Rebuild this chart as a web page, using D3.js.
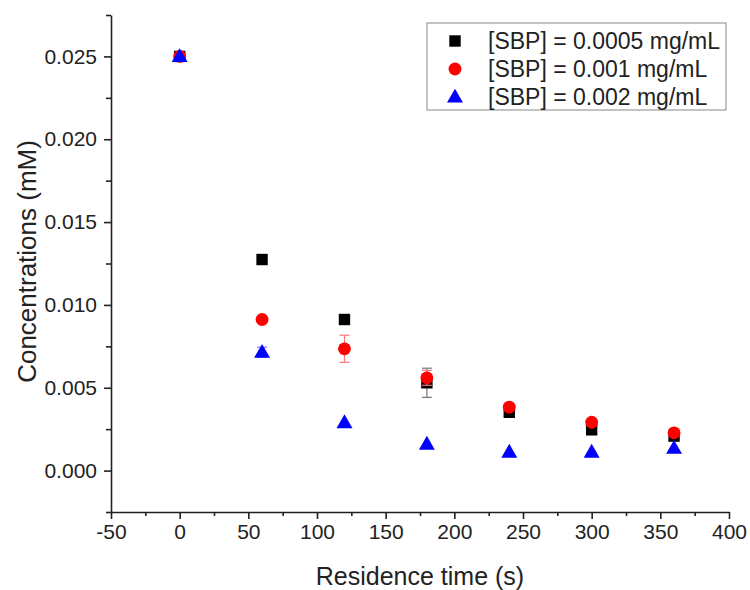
<!DOCTYPE html>
<html>
<head>
<meta charset="utf-8">
<script src="https://cdn.jsdelivr.net/npm/d3@7"></script>
<style>
  body { margin: 0; background: #fff; }
  text { font-family: "Liberation Sans", Arial, sans-serif; }
</style>
</head>
<body>
<div id="chart"></div>
<script>
// residence times (s)
const times = [0, 60, 120, 180, 240, 300, 360];

// concentrations (mM) per SBP loading
const conc0005 = [0.0250, 0.01274, 0.00912, 0.00530, 0.00352, 0.00246, 0.00208];
const conc001  = [0.0250, 0.00912, 0.00735, 0.00560, 0.00383, 0.00292, 0.00228];
const conc002  = [0.0250, 0.00715, 0.00290, 0.00160, 0.00112, 0.00112, 0.00135];

// error bars (mM)
const err0005 = [0, 0, 0, 0.00088, 0, 0, 0];
const err001  = [0, 0, 0.00082, 0.00045, 0, 0, 0];
const err002  = [0, 0.00030, 0, 0, 0, 0, 0];

const seriesNames = ["[SBP] = 0.0005 mg/mL", "[SBP] = 0.001 mg/mL", "[SBP] = 0.002 mg/mL"];
const seriesColors = ["#000000", "#ff0000", "#0000ff"];
const errColors = ["#777777", "#ff7777", "#7777ff"];
const seriesShapes = [d3.symbolSquare, d3.symbolCircle, d3.symbolTriangle];

const xTicks = [-50, 0, 50, 100, 150, 200, 250, 300, 350, 400];
const yTicks = [0.000, 0.005, 0.010, 0.015, 0.020, 0.025];

const W = 750, H = 590;
const margin = {top: 15, right: 21, bottom: 78, left: 111};
const width = W - margin.left - margin.right;
const height = H - margin.top - margin.bottom;

const svg = d3.select("#chart").append("svg")
    .attr("width", W).attr("height", H)
    .append("g")
    .attr("transform", "translate(" + margin.left + "," + margin.top + ")");

const x = d3.scaleLinear().domain([-50, 400]).range([0, width]);
const y = d3.scaleLinear().domain([-0.0025, 0.0275]).range([height, 0]);

// minor ticks
const xMinor = d3.range(-25, 400, 50);
const yMinor = d3.range(-0.0025, 0.028, 0.005);

svg.append("g")
    .attr("transform", "translate(0," + height + ")")
    .call(d3.axisBottom(x).tickValues(xTicks).tickSize(7).tickSizeOuter(0).tickPadding(5)
        .tickFormat(function(d) { return String(d); }));
svg.append("g")
    .attr("transform", "translate(0," + height + ")")
    .call(d3.axisBottom(x).tickValues(xMinor).tickSize(4).tickSizeOuter(0).tickFormat(""))
    .select(".domain").remove();

svg.append("g")
    .call(d3.axisLeft(y).tickValues(yTicks).tickSize(7).tickSizeOuter(0).tickPadding(7)
        .tickFormat(d3.format(".3f")));
svg.append("g")
    .call(d3.axisLeft(y).tickValues(yMinor).tickSize(5).tickSizeOuter(0).tickFormat(""))
    .select(".domain").remove();

svg.selectAll(".domain, .tick line").attr("stroke", "#222").attr("stroke-width", 1.6);
svg.selectAll(".tick text").attr("font-size", 21).attr("fill", "#222")
    .style("font-family", "'Liberation Sans', Arial, sans-serif");

// axis titles
svg.append("text")
    .attr("x", width / 2).attr("y", height + 73)
    .attr("text-anchor", "middle").attr("font-size", 25).attr("fill", "#222")
    .text("Residence time (s)");
svg.append("text")
    .attr("transform", "translate(" + (-75) + "," + (height / 2 - 2) + ") rotate(-90)")
    .attr("text-anchor", "middle").attr("font-size", 26).attr("fill", "#222")
    .text("Concentrations (mM)");

// data
const series = [
    {vals: conc0005, errs: err0005},
    {vals: conc001, errs: err001},
    {vals: conc002, errs: err002}
];
const symSizes = [130, 130, 110];

series.forEach(function(s, i) {
    const pts = times.map(function(t, j) { return {t: t, v: s.vals[j], e: s.errs[j]}; });
    const g = svg.append("g");
    const eb = g.selectAll(".err").data(pts.filter(function(d) { return d.e > 0; }))
        .enter().append("g").attr("stroke", errColors[i]).attr("stroke-width", 1.2);
    eb.append("line")
        .attr("x1", function(d) { return x(d.t); }).attr("x2", function(d) { return x(d.t); })
        .attr("y1", function(d) { return y(d.v - d.e); }).attr("y2", function(d) { return y(d.v + d.e); });
    eb.append("line")
        .attr("x1", function(d) { return x(d.t) - 5; }).attr("x2", function(d) { return x(d.t) + 5; })
        .attr("y1", function(d) { return y(d.v - d.e); }).attr("y2", function(d) { return y(d.v - d.e); });
    eb.append("line")
        .attr("x1", function(d) { return x(d.t) - 5; }).attr("x2", function(d) { return x(d.t) + 5; })
        .attr("y1", function(d) { return y(d.v + d.e); }).attr("y2", function(d) { return y(d.v + d.e); });
    g.selectAll("path.pt").data(pts).enter().append("path")
        .attr("class", "pt")
        .attr("transform", function(d) { return "translate(" + x(d.t) + "," + (y(d.v) + (i == 2 ? 1 : 0)) + ")"; })
        .attr("d", d3.symbol().type(seriesShapes[i]).size(symSizes[i]))
        .attr("fill", seriesColors[i]);
});

// legend
const legend = svg.append("g").attr("transform", "translate(" + (427 - margin.left) + "," + (23 - margin.top) + ")");
legend.append("rect").attr("width", 299).attr("height", 87)
    .attr("fill", "#fff").attr("stroke", "#888").attr("stroke-width", 1);
seriesNames.forEach(function(n, i) {
    const row = legend.append("g").attr("transform", "translate(0," + (18 + i * 28) + ")");
    row.append("path").attr("transform", "translate(28," + (i == 2 ? 1 : 0) + ")")
        .attr("d", d3.symbol().type(seriesShapes[i]).size(symSizes[i]))
        .attr("fill", seriesColors[i]);
    row.append("text").attr("x", 61).attr("dy", "0.35em")
        .attr("font-size", 23).attr("fill", "#222").text(n);
});
</script>
</body>
</html>
